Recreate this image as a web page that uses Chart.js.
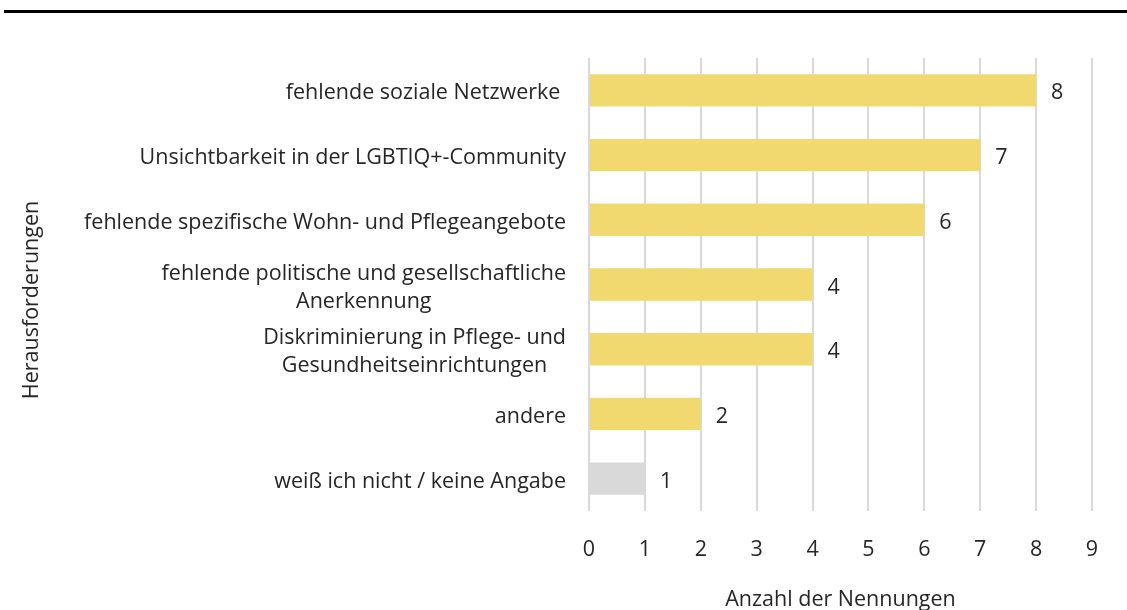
<!DOCTYPE html>
<html>
<head>
<meta charset="utf-8">
<script src="https://cdn.jsdelivr.net/npm/chart.js@4.4.1/dist/chart.umd.min.js"></script>
<style>
  body { margin: 0; background: #fff; }
  #wrap { position: relative; width: 1127px; height: 610px; }
  #topline { position: absolute; left: 4px; right: 0; top: 10px; height: 3px; background: #000; }
</style>
</head>
<body>
<div id="wrap">
  <div id="topline"></div>
  <canvas id="chart" width="1127" height="610"></canvas>
</div>
<script>
// Kategorien (mehrzeilig wie im Original)
var categories = [
    ["fehlende soziale Netzwerke "],
    ["Unsichtbarkeit in der LGBTIQ+-Community"],
    ["fehlende spezifische Wohn- und Pflegeangebote"],
    ["fehlende politische und gesellschaftliche", "Anerkennung"],
    ["Diskriminierung in Pflege- und", "Gesundheitseinrichtungen"],
    ["andere"],
    ["weiß ich nicht / keine Angabe"]
];
var counts = [8, 7, 6, 4, 4, 2, 1];
var xTicks = [0, 1, 2, 3, 4, 5, 6, 7, 8, 9];

var yellow = "#F1D970";
var grey = "#D9D9D9";
var barColors = counts.map(function (v, i) { return i === counts.length - 1 ? grey : yellow; });

var fontFamily = "'Open Sans', 'Noto Sans', sans-serif";
var fontSize = 21.5;
var textColor = "#262626";

// draws y labels (centered block, right edge at axis), value labels and y title
var labelPlugin = {
    id: "labels",
    afterDraw: function (chart) {
        var ctx = chart.ctx;
        var yScale = chart.scales.y;
        var area = chart.chartArea;
        var dy = 3; // optical baseline shift
        ctx.save();
        ctx.font = fontSize + "px " + fontFamily;
        ctx.fillStyle = textColor;
        ctx.textBaseline = "middle";

        // category labels
        var rightEdge = area.left - 23;
        var lineH = 28;
        categories.forEach(function (lines, i) {
            var yc = yScale.getPixelForValue(i) + dy;
            var maxW = 0;
            lines.forEach(function (l) { maxW = Math.max(maxW, ctx.measureText(l).width); });
            var cx = rightEdge - maxW / 2;
            ctx.textAlign = "center";
            lines.forEach(function (l, k) {
                var y = yc + (k - (lines.length - 1) / 2) * lineH;
                ctx.fillText(l, cx, y);
            });
        });

        // value labels
        var meta = chart.getDatasetMeta(0);
        ctx.textAlign = "left";
        meta.data.forEach(function (bar, i) {
            ctx.fillText(String(counts[i]), bar.x + 15, bar.y + dy);
        });

        // y title
        ctx.translate(32, 300);
        ctx.rotate(-Math.PI / 2);
        ctx.textAlign = "center";
        ctx.fillText("Herausforderungen", 0, 0);
        ctx.restore();
    }
};

new Chart(document.getElementById("chart"), {
    type: "bar",
    data: {
        labels: categories,
        datasets: [{
            data: counts,
            backgroundColor: barColors,
            borderWidth: 0,
            categoryPercentage: 1,
            barPercentage: 0.5
        }]
    },
    options: {
        indexAxis: "y",
        responsive: false,
        animation: false,
        layout: { padding: { top: 58, right: 35, left: 0, bottom: 0 } },
        plugins: {
            legend: { display: false },
            tooltip: { enabled: false }
        },
        scales: {
            x: {
                min: 0,
                max: 9,
                afterBuildTicks: function (scale) {
                    scale.ticks = xTicks.map(function (v) { return { value: v }; });
                },
                afterFit: function (scale) { scale.height = 99; },
                grid: { color: "#D9D9D9", lineWidth: 2, drawTicks: false },
                border: { display: false },
                ticks: {
                    padding: 26,
                    color: textColor,
                    font: { family: fontFamily, size: fontSize }
                },
                title: {
                    display: true,
                    text: "Anzahl der Nennungen",
                    color: textColor,
                    font: { family: fontFamily, size: fontSize },
                    padding: { top: 0, bottom: -3 }
                }
            },
            y: {
                afterFit: function (scale) { scale.width = 589; },
                grid: { display: false },
                border: { display: false },
                ticks: { display: false }
            }
        }
    },
    plugins: [labelPlugin]
});
</script>
</body>
</html>
